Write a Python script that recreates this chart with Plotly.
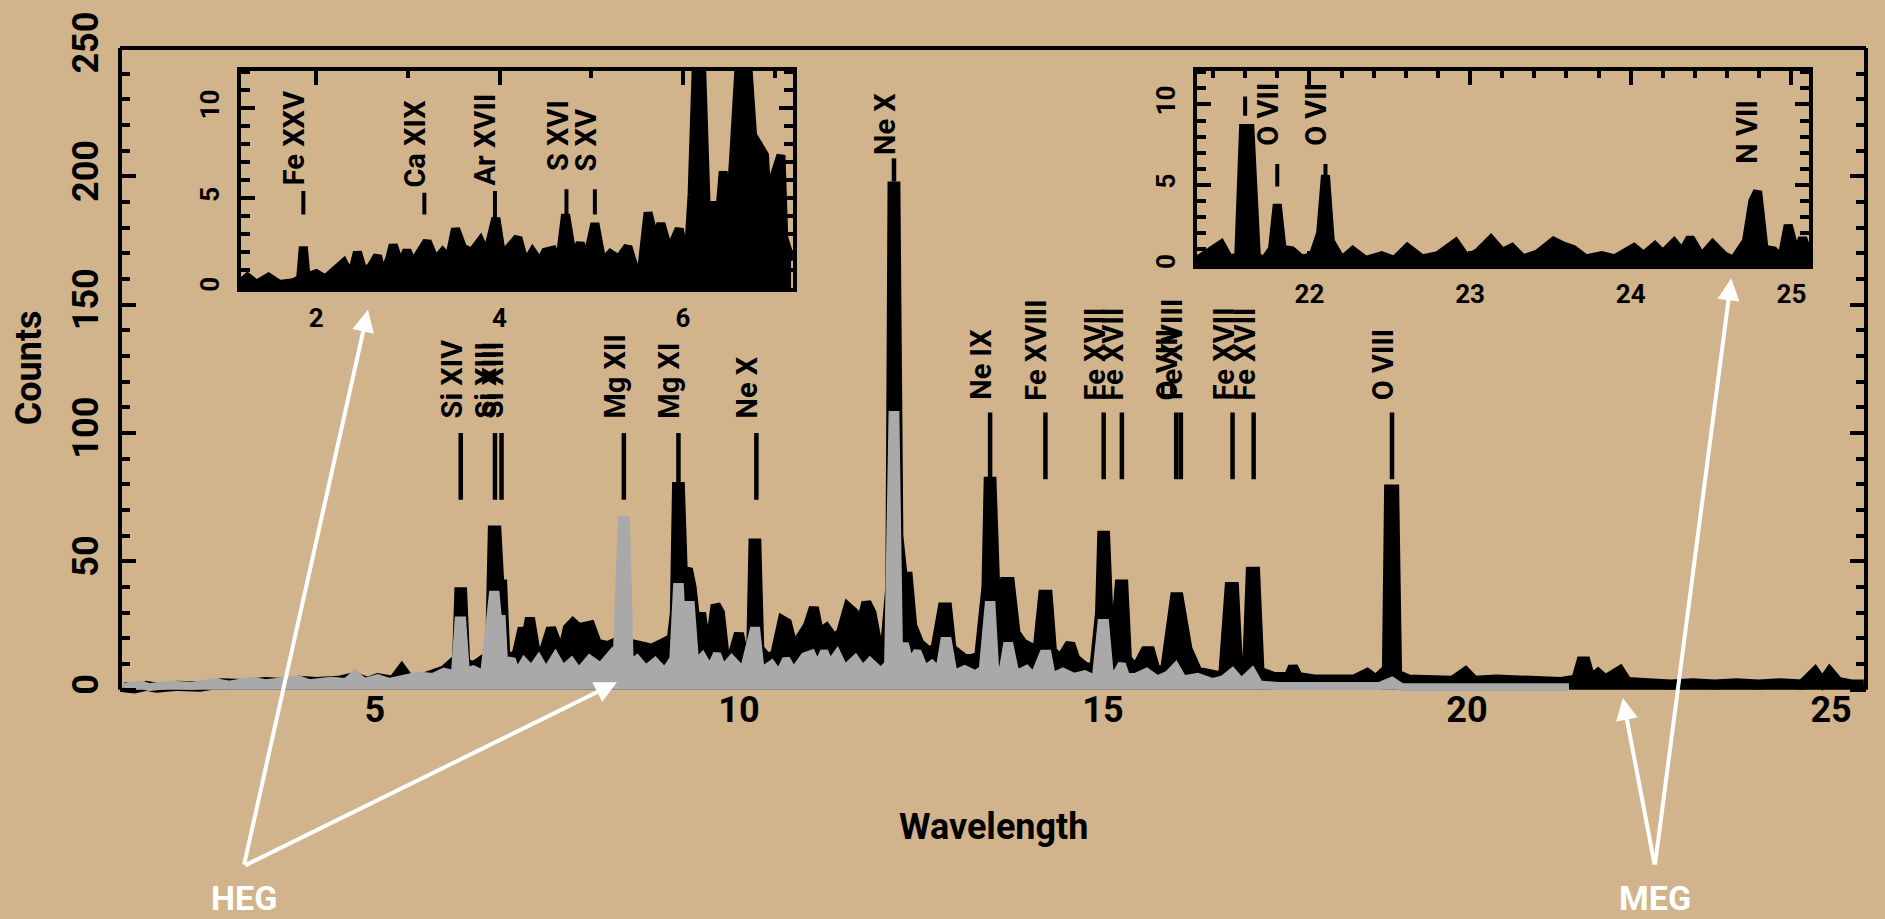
import plotly.graph_objects as go

# ---------------- spectra (wavelength in Angstrom, counts) ----------------
meg_wave = [1.55, 1.7, 1.86, 2.0, 2.3, 2.6, 2.9, 3.2, 3.5, 3.8, 3.96, 4.2, 4.5, 4.73, 4.9,
            5.04, 5.25, 5.37, 5.5, 5.65, 5.8, 5.95, 6.05, 6.13, 6.16, 6.20, 6.24, 6.32, 6.40,
            6.50, 6.58, 6.62, 6.67, 6.71, 6.75, 6.79, 6.85, 6.95, 7.03, 7.08, 7.13, 7.2, 7.3,
            7.42, 7.5, 7.58, 7.65, 7.72, 7.8, 7.88, 7.96, 8.05, 8.2, 8.35, 8.42, 8.5, 8.65,
            8.8, 8.95, 9.08, 9.12, 9.15, 9.19, 9.23, 9.3, 9.35, 9.42, 9.48, 9.53, 9.6, 9.68,
            9.74, 9.8, 9.9, 10.0, 10.06, 10.17, 10.20, 10.24, 10.28, 10.4, 10.5, 10.6, 10.66,
            10.75, 10.85, 10.95, 11.03, 11.1, 11.2, 11.3, 11.4, 11.5, 11.58, 11.65, 11.75,
            11.82, 11.9, 12.0, 12.08, 12.11, 12.15, 12.19, 12.25, 12.32, 12.38, 12.48, 12.6,
            12.7, 12.8, 12.86, 12.92, 13.0, 13.1, 13.2, 13.3, 13.4, 13.43, 13.47, 13.52, 13.58,
            13.65, 13.72, 13.8, 13.9, 14.0, 14.1, 14.18, 14.24, 14.3, 14.42, 14.55, 14.62,
            14.75, 14.88, 14.96, 14.99, 15.03, 15.08, 15.17, 15.23, 15.28, 15.33, 15.45, 15.58,
            15.65, 15.72, 15.85, 15.95, 15.99, 16.04, 16.1, 16.16, 16.3, 16.5, 16.65, 16.74,
            16.8, 16.86, 16.98, 17.03, 17.09, 17.15, 17.35, 17.55, 17.61, 17.68, 17.9, 18.2,
            18.45, 18.63, 18.75, 18.9, 18.93, 19.0, 19.04, 19.2, 19.5, 19.8, 19.98, 20.1, 20.4,
            20.7, 21.0, 21.3, 21.5, 21.57, 21.63, 21.7, 21.8, 21.9, 22.1, 22.2, 22.5, 22.8,
            23.1, 23.4, 23.7, 24.0, 24.3, 24.6, 24.78, 24.88, 24.98, 25.1, 25.3, 25.45]
meg_counts = [1.0, 0.5, 1.5, 0.8, 1.5, 1.2, 2.5, 2.2, 3.0, 2.5, 3.5, 3.0, 3.5, 5.0, 3.0,
              4.5, 3.5, 8.0, 3.0, 4.5, 5.0, 7.5, 10, 12, 38, 38, 11, 9, 10,
              12, 11, 62, 62, 41, 41, 14, 12, 14, 24, 20, 28, 16, 13,
              24, 18, 15, 24, 26, 24, 25, 25, 18, 17, 19, 21, 18, 17,
              16, 18, 20, 30, 79, 79, 45, 47, 40, 22, 30, 20, 16, 33,
              30, 14, 12, 22, 14, 16, 57, 57, 16, 12, 14, 27, 26,
              16, 20, 25, 32, 22, 24, 20, 22, 32, 30, 22, 34,
              30, 18, 14, 40, 196, 196, 60, 44, 44, 25, 18, 15,
              16, 32, 32, 16, 14, 12, 12, 13, 40, 81, 81, 40, 30,
              42, 42, 22, 18, 16, 15, 37, 37, 15, 12, 18, 12,
              9, 8, 30, 60, 60, 25, 20, 41, 41, 12, 8, 15,
              15, 8, 7, 30, 36, 36, 24, 16, 7, 6, 5, 40,
              40, 6, 8, 46, 46, 7, 5, 5, 9, 5, 4, 4,
              4, 6.5, 4, 8, 78, 78, 6, 4, 3.5, 3.5, 7, 3.5, 4,
              3.5, 3.5, 3, 4, 11, 11, 4, 6.5, 4, 7.5, 3, 2.5, 2,
              2.5, 2, 2.5, 2, 2.5, 2, 7, 3, 7, 3, 2, 2]

heg_wave = [1.55, 1.8, 1.9, 2.2, 2.5, 2.8, 3.0, 3.3, 3.5, 3.8, 3.96, 4.1, 4.4, 4.6, 4.73,
            4.85, 5.04, 5.2, 5.4, 5.6, 5.8, 5.95, 6.1, 6.15, 6.20, 6.25, 6.35, 6.5, 6.62,
            6.66, 6.7, 6.74, 6.78, 6.88, 6.95, 7.05, 7.15, 7.25, 7.35, 7.48, 7.58, 7.7, 7.8,
            7.95, 8.1, 8.25, 8.32, 8.39, 8.45, 8.5, 8.6, 8.72, 8.85, 8.98, 9.1, 9.15, 9.19,
            9.24, 9.30, 9.34, 9.4, 9.5, 9.6, 9.7, 9.78, 9.9, 10.0, 10.07, 10.2, 10.24, 10.3,
            10.45, 10.55, 10.65, 10.75, 10.9, 11.0, 11.08, 11.17, 11.25, 11.35, 11.45, 11.6,
            11.7, 11.8, 11.95, 12.05, 12.11, 12.15, 12.2, 12.28, 12.35, 12.45, 12.55, 12.65,
            12.75, 12.82, 12.87, 12.95, 13.1, 13.25, 13.35, 13.43, 13.47, 13.52, 13.62, 13.68,
            13.72, 13.8, 13.95, 14.05, 14.18, 14.24, 14.3, 14.45, 14.6, 14.75, 14.9, 14.98,
            15.03, 15.1, 15.2, 15.26, 15.32, 15.45, 15.6, 15.75, 15.9, 16.0, 16.1, 16.3, 16.5,
            16.65, 16.78, 16.9, 17.05, 17.15, 17.4, 17.8, 18.3, 18.8, 18.97, 19.1, 19.6, 20.2,
            20.8, 21.4]
heg_counts = [1.0, 2.0, 1.0, 2.0, 1.5, 3.0, 2.0, 3.5, 2.5, 3.5, 4.0, 2.5, 3.5, 3.0, 6.0,
              3.0, 4.5, 3.0, 4.0, 5.5, 5.0, 7.0, 6.0, 27, 27, 7, 8, 6, 37,
              37, 25, 29, 8, 12, 6, 11, 8, 12, 7, 13, 8, 11, 7,
              12, 9, 14, 10, 66, 66, 10, 12, 8, 11, 7, 12, 40, 40,
              12, 33, 33, 10, 13, 8, 14, 8, 12, 9, 8, 23, 23, 7,
              10, 6, 12, 7, 13, 14, 9, 15, 10, 14, 8, 12,
              8, 11, 7, 10, 107, 107, 12, 18, 10, 15, 8, 10,
              7, 19, 19, 6, 8, 6, 8, 33, 33, 8, 7, 17,
              17, 6, 8, 5, 14, 14, 5, 7, 5, 6, 4, 26,
              26, 4, 7, 10, 5, 5, 7, 4, 6, 9, 4, 5, 3,
              4, 7, 3, 7, 2, 1.5, 1.5, 1.5, 1.5, 3.5, 1, 1, 1,
              1, 1]

# short-wavelength detail (left inset)
short_wave = [1.18, 1.25, 1.35, 1.48, 1.6, 1.75, 1.83, 1.86, 1.89, 2.0, 2.1, 2.2, 2.3, 2.38,
              2.45, 2.52, 2.6, 2.67, 2.72, 2.8, 2.84, 2.92, 2.99, 3.05, 3.12, 3.21, 3.3, 3.38,
              3.45, 3.52, 3.6, 3.7, 3.79, 3.86, 3.96, 4.02, 4.1, 4.2, 4.28, 4.36, 4.44, 4.5,
              4.58, 4.65, 4.72, 4.8, 4.88, 4.95, 5.04, 5.12, 5.21, 5.3, 5.4, 5.47, 5.53, 5.62,
              5.7, 5.76, 5.85, 5.96, 6.05, 6.1, 6.15, 6.2, 6.27, 6.33, 6.39, 6.44, 6.49, 6.56,
              6.62, 6.7, 6.76, 6.82, 6.89, 6.93, 7.0, 7.07, 7.1, 7.18]
short_counts = [0.3, 0.6, 0.2, 0.6, 0.2, 0.3, 0.5, 2.3, 0.6, 0.8, 0.5, 1.0, 1.4, 0.6,
                2.0, 0.8, 1.2, 1.8, 0.6, 1.6, 2.4, 1.2, 2.1, 1.3, 1.8, 2.6, 1.5, 2.0,
                1.6, 3.3, 2.2, 2.0, 2.6, 1.8, 3.9, 1.9, 2.2, 2.8, 1.3, 2.0, 1.4, 2.0,
                2.1, 1.2, 4.1, 1.6, 2.5, 1.5, 3.6, 1.4, 1.9, 1.6, 2.3, 1.2, 0.1, 4.2,
                2.5, 3.6, 2.0, 3.3, 1.0, 5.2, 13, 13, 1.9, 4.8, 3.5, 6.5, 2.3, 7.8,
                13, 13, 8.5, 8.0, 7.4, 3.6, 6.3, 7.4, 2.8, 1.5]

# long-wavelength detail (right inset)
long_wave = [21.3, 21.38, 21.45, 21.5, 21.56, 21.59, 21.63, 21.67, 21.72, 21.77, 21.80, 21.83,
             21.89, 21.95, 22.02, 22.07, 22.10, 22.13, 22.2, 22.27, 22.35, 22.45, 22.53, 22.61,
             22.7, 22.8, 22.91, 22.98, 23.05, 23.13, 23.2, 23.26, 23.33, 23.42, 23.52, 23.58,
             23.64, 23.72, 23.82, 23.9, 23.96, 24.02, 24.08, 24.15, 24.2, 24.27, 24.32, 24.37,
             24.44, 24.51, 24.58, 24.64, 24.72, 24.76, 24.79, 24.83, 24.89, 24.94, 24.98, 25.03,
             25.07, 25.11]
long_counts = [0.3, 0.8, 1.3, 0.4, 0.5, 8.5, 8.5, 0.5, 0.3, 1.0, 3.8, 1.0,
               0.9, 0.4, 0.5, 2.0, 5.6, 1.5, 0.3, 0.9, 0.3, 0.6, 0.3, 1.1,
               0.4, 0.6, 1.4, 0.4, 0.8, 1.6, 0.8, 1.1, 0.4, 0.7, 1.5, 1.2,
               1.0, 0.4, 0.6, 0.4, 0.8, 1.1, 0.6, 1.2, 0.7, 1.4, 0.8, 1.7,
               0.5, 1.3, 0.6, 0.3, 1.5, 4.0, 4.6, 1.0, 0.9, 0.4, 2.5, 0.6,
               1.7, 0.5]

# ---------------- line identifications ----------------
ions_low = ["Si XIV", "Si XIII", "Si XIII", "Mg XII", "Mg XI", "Ne X"]
waves_low = [6.18, 6.65, 6.74, 8.42, 9.17, 10.24]
ions_high = ["Ne IX", "Fe XVIII", "Fe XVII", "Fe XVII", "O VIII", "Fe XVIII",
             "Fe XVII", "Fe XVII", "O VIII"]
waves_high = [13.45, 14.21, 15.01, 15.26, 16.006, 16.07, 16.78, 17.07, 18.97]
ions_top = ["Ne X"]
waves_top = [12.13]

ions_short = ["Fe XXV", "Ca XIX", "Ar XVII", "S XVI", "S XV"]
waves_short = [1.86, 3.18, 3.95, 4.73, 5.04]
short_tick_lo = [4.1, 4.1, 3.8, 3.6, 4.1]
short_tick_hi = [5.4, 5.3, 5.4, 5.5, 5.5]
short_text_at = [5.6, 5.5, 5.6, 6.4, 6.4]

long_tick_waves = [21.60, 21.80, 22.10]
long_tick_lo = [9.3, 4.9, 5.6]
long_tick_hi = [10.5, 6.3, 6.3]
ions_long = ["O VII", "O VII", "N VII"]
waves_long_text = [21.80, 22.10, 24.78]
long_text_at = [7.3, 7.3, 6.2]

# ---------------- styling ----------------
BG = "#D2B48C"
FONT = "Roboto"
X_MAIN = [1.5, 25.48]
Y_MAIN = [-4, 250]
X_SHORT = [1.18, 7.2]
X_LONG = [21.3, 25.11]
Y_INSET = [0, 12.1]
PLOT_TOP, PLOT_H = 40, 660


def paper_y(px):
    """Vertical paper fraction for a pixel row of the page."""
    return 1 - (px - PLOT_TOP) / PLOT_H


def segments(waves, lo, hi):
    xs, ys = [], []
    for i, w in enumerate(waves):
        a = lo[i] if isinstance(lo, list) else lo
        b = hi[i] if isinstance(hi, list) else hi
        xs += [w, w, None]
        ys += [a, b, None]
    return xs, ys


fig = go.Figure()

# main panel: MEG (black) under HEG (grey)
fig.add_trace(go.Scatter(x=meg_wave, y=meg_counts, mode="lines", fill="tozeroy",
                         fillcolor="black", line=dict(color="black", width=10),
                         xaxis="x", yaxis="y", hoverinfo="skip"))
fig.add_trace(go.Scatter(x=heg_wave, y=heg_counts, mode="lines", fill="tozeroy",
                         fillcolor="#A9A9A9", line=dict(color="#A9A9A9", width=8),
                         xaxis="x", yaxis="y", hoverinfo="skip"))

# identification ticks in main panel
for waves, lo, hi in [(waves_low, 74, 100), (waves_high, 82, 108), (waves_top, 198, 207)]:
    sx, sy = segments(waves, lo, hi)
    fig.add_trace(go.Scatter(x=sx, y=sy, mode="lines", line=dict(color="black", width=4.5),
                             xaxis="x", yaxis="y", hoverinfo="skip"))

# inset traces
fig.add_trace(go.Scatter(x=short_wave, y=short_counts, mode="lines", fill="tozeroy",
                         fillcolor="black", line=dict(color="black", width=9),
                         xaxis="x3", yaxis="y3", hoverinfo="skip"))
sx, sy = segments(waves_short, short_tick_lo, short_tick_hi)
fig.add_trace(go.Scatter(x=sx, y=sy, mode="lines", line=dict(color="black", width=4),
                         xaxis="x3", yaxis="y3", hoverinfo="skip"))

fig.add_trace(go.Scatter(x=long_wave, y=long_counts, mode="lines", fill="tozeroy",
                         fillcolor="black", line=dict(color="black", width=9),
                         xaxis="x4", yaxis="y4", hoverinfo="skip"))
sx, sy = segments(long_tick_waves, long_tick_lo, long_tick_hi)
fig.add_trace(go.Scatter(x=sx, y=sy, mode="lines", line=dict(color="black", width=4),
                         xaxis="x4", yaxis="y4", hoverinfo="skip"))

annotations = []
lab_font = dict(family=FONT, size=29, color="black", weight="bold")


def ion_labels(names, waves, start, xref, yref):
    for i, (n, w) in enumerate(zip(names, waves)):
        s = start[i] if isinstance(start, list) else start
        annotations.append(dict(x=w, y=s, xref=xref, yref=yref, text=n, showarrow=False,
                                textangle=-90, xanchor="center", yanchor="bottom",
                                xshift=-9, font=lab_font))


ion_labels(ions_low, waves_low, 105, "x", "y")
ion_labels(ions_high, waves_high, 112, "x", "y")
ion_labels(ions_top, waves_top, 207.5, "x", "y")
ion_labels(ions_short, waves_short, short_text_at, "x3", "y3")
ion_labels(ions_long, waves_long_text, long_text_at, "x4", "y4")

# axis titles
title_font = dict(family=FONT, size=36, color="black", weight="bold")
annotations.append(dict(x=0.5, y=paper_y(829), xref="paper", yref="paper",
                        text="Wavelength", showarrow=False, xanchor="center",
                        yanchor="middle", font=title_font))
annotations.append(dict(x=-0.052, y=0.509, xref="paper", yref="paper", text="Counts",
                        showarrow=False, textangle=-90, xanchor="center",
                        yanchor="middle", font=title_font))

# grating labels and pointers
heg_tail = (3.2, -68.7)
meg_tail = (22.58, -68.7)
pointers = [(heg_tail, (4.906, 148.0)), (heg_tail, (8.326, 2.9)),
            (meg_tail, (22.14, -3.2)), (meg_tail, (23.63, 160.3))]
for tail, tip in pointers:
    annotations.append(dict(x=tip[0], y=tip[1], ax=tail[0], ay=tail[1], xref="x", yref="y",
                            axref="x", ayref="y", text="", showarrow=True, arrowhead=2,
                            arrowsize=1.1, arrowwidth=4, arrowcolor="white", standoff=0))
for name, tail in [("HEG", heg_tail), ("MEG", meg_tail)]:
    annotations.append(dict(x=tail[0], y=paper_y(900), xref="x", yref="paper", text=name,
                            showarrow=False, xanchor="center", yanchor="middle",
                            font=dict(family=FONT, size=34, color="white", weight="bold")))

# frame of main panel (no bottom line)
y0_frac = (0 - Y_MAIN[0]) / (Y_MAIN[1] - Y_MAIN[0])
shapes = [
    dict(type="line", xref="paper", yref="paper", x0=0, x1=0, y0=y0_frac, y1=1,
         line=dict(color="black", width=4)),
    dict(type="line", xref="paper", yref="paper", x0=1, x1=1, y0=y0_frac, y1=1,
         line=dict(color="black", width=4)),
    dict(type="line", xref="paper", yref="paper", x0=0, x1=1, y0=1, y1=1,
         line=dict(color="black", width=4)),
]

tick_font = dict(family=FONT, size=36, color="black", weight="bold")
inset_font = dict(family=FONT, size=26, color="black", weight="bold")

fig.update_layout(
    width=1885, height=919,
    paper_bgcolor=BG, plot_bgcolor=BG,
    margin=dict(l=120, r=19, t=PLOT_TOP, b=919 - PLOT_TOP - PLOT_H),
    showlegend=False,
    annotations=annotations,
    shapes=shapes,
    xaxis=dict(range=X_MAIN, showgrid=False, zeroline=False, showline=False,
               tickvals=[5, 10, 15, 20, 25], ticks="", tickfont=tick_font,
               ticklabelstandoff=-15),
    xaxis2=dict(range=X_MAIN, overlaying="x", side="top", anchor="y", showgrid=False,
                zeroline=False, showline=False, showticklabels=False,
                tick0=0, dtick=5, ticks="inside", ticklen=18, tickwidth=4,
                tickcolor="black",
                minor=dict(dtick=1, ticks="inside", ticklen=9, tickwidth=4,
                           tickcolor="black")),
    yaxis=dict(range=Y_MAIN, showgrid=False, zeroline=False, showline=False,
               tick0=0, dtick=50, ticks="inside", ticklen=16, tickwidth=4,
               tickcolor="black", mirror="ticks", tickangle=-90, tickfont=tick_font,
               ticklabelstandoff=14,
               minor=dict(dtick=10, ticks="inside", ticklen=10, tickwidth=4,
                          tickcolor="black")),
    xaxis3=dict(domain=[0.0693, 0.3854], anchor="y3", range=X_SHORT, showgrid=False,
                zeroline=False, showline=True, linewidth=4, linecolor="black",
                mirror="ticks", tickvals=[2, 4, 6], ticks="inside", ticklen=14,
                tickwidth=4, tickcolor="black", tickfont=inset_font,
                ticklabelstandoff=4,
                minor=dict(dtick=1, ticks="inside", ticklen=7, tickwidth=4,
                           tickcolor="black")),
    yaxis3=dict(domain=[0.6318, 0.9652], anchor="x3", range=Y_INSET, showgrid=False,
                zeroline=False, showline=True, linewidth=4, linecolor="black",
                mirror="ticks", tickvals=[0, 5, 10], ticks="inside", ticklen=14,
                tickwidth=4, tickcolor="black", tickfont=inset_font, tickangle=-90,
                ticklabelstandoff=8,
                minor=dict(dtick=1, ticks="inside", ticklen=9, tickwidth=4,
                           tickcolor="black")),
    xaxis4=dict(domain=[0.6168, 0.9674], anchor="y4", range=X_LONG, showgrid=False,
                zeroline=False, showline=True, linewidth=4, linecolor="black",
                mirror="ticks", tickvals=[22, 23, 24, 25], ticks="inside", ticklen=14,
                tickwidth=4, tickcolor="black", tickfont=inset_font,
                ticklabelstandoff=2,
                minor=dict(dtick=0.2, tick0=0, ticks="inside", ticklen=7, tickwidth=4,
                           tickcolor="black")),
    yaxis4=dict(domain=[0.6667, 0.9652], anchor="x4", range=Y_INSET, showgrid=False,
                zeroline=False, showline=True, linewidth=4, linecolor="black",
                mirror="ticks", tickvals=[0, 5, 10], ticks="inside", ticklen=14,
                tickwidth=4, tickcolor="black", tickfont=inset_font, tickangle=-90,
                ticklabelstandoff=8,
                minor=dict(dtick=1, ticks="inside", ticklen=9, tickwidth=4,
                           tickcolor="black")),
)

fig.write_html("out.html")
